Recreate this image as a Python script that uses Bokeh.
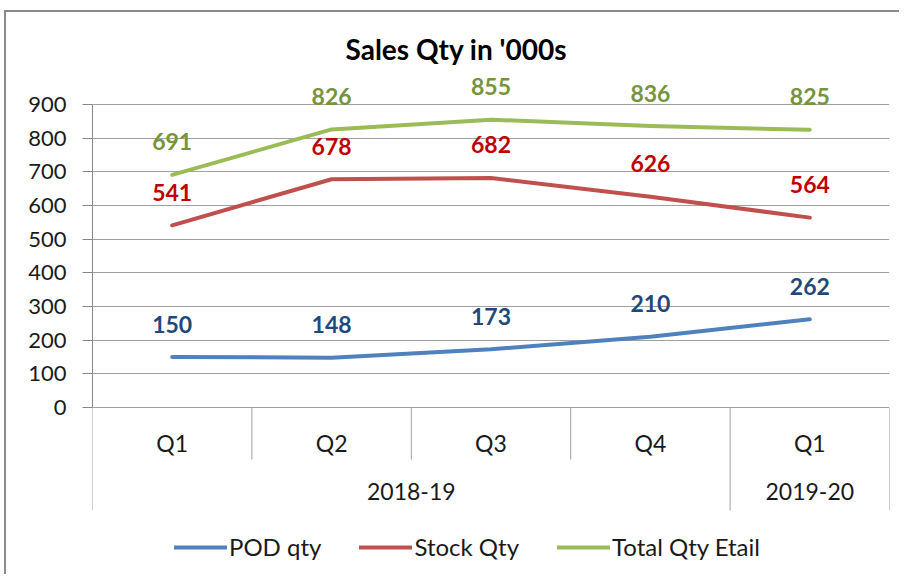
from bokeh.plotting import figure
from bokeh.models import Range1d, FixedTicker, Legend, LegendItem
from bokeh.core.properties import value
from bokeh.embed import file_html
from bokeh.resources import INLINE

# ---------------- data ----------------
quarters = ["Q1", "Q2", "Q3", "Q4", "Q1"]
years = ["2018-19", "2019-20"]
year_quarter_counts = [4, 1]
pod_qty = [150, 148, 173, 210, 262]
stock_qty = [541, 678, 682, 626, 564]
total_qty = [691, 826, 855, 836, 825]
y_ticks = [0, 100, 200, 300, 400, 500, 600, 700, 800, 900]
series_names = ["POD qty", "Stock Qty", "Total Qty Etail"]

# ---------------- style ----------------
FONT = "Lato"
line_colors = ["#4F81BD", "#C0504D", "#9BBB59"]
label_colors = ["#1F497D", "#C00000", "#77933C"]
GRID = "#a0a0a0"
TEXT = "#1a1a1a"

FRAME_W = 797
FRAME_H = 504
PX_PER_UNIT = 303 / 900.0          # 900 units span 303 px
TOP_PAD_PX = 34                     # gap between frame top and 900 gridline
y_end = 900 + TOP_PAD_PX / PX_PER_UNIT
y_start = y_end - FRAME_H / PX_PER_UNIT

n = len(quarters)
xs = [i + 0.5 for i in range(n)]

p = figure(frame_width=FRAME_W, frame_height=FRAME_H,
           min_border_left=86, min_border_right=10, min_border_top=58, min_border_bottom=0,
           x_range=Range1d(0, n), y_range=Range1d(y_start, y_end),
           x_axis_location=None, toolbar_location=None, output_backend="svg",
           title="Sales Qty in '000s")
p.outline_line_color = None
p.background_fill_color = "white"
p.border_fill_color = "white"

p.title.align = "left"
p.title.offset = 253
p.title.text_font = FONT
p.title.text_font_size = "28px"
p.title.text_font_style = "bold"
p.title.text_color = "#000000"

# y axis
yax = p.yaxis[0]
yax.ticker = FixedTicker(ticks=y_ticks)
yax.bounds = (0, 900)
yax.axis_line_color = "#868686"
yax.major_tick_line_color = "#868686"
yax.major_tick_out = 10
yax.major_tick_in = 0
yax.minor_tick_line_color = None
yax.major_label_standoff = 16
yax.major_label_text_font = FONT
yax.major_label_text_font_size = "22px"
yax.major_label_text_color = TEXT

p.xgrid.visible = False
p.ygrid.ticker = FixedTicker(ticks=y_ticks)
p.ygrid.bounds = (0, 900)
p.ygrid.grid_line_color = GRID

# lines + data labels
renderers = []
for vals, lc, tc in zip([pod_qty, stock_qty, total_qty], line_colors, label_colors):
    r = p.line(xs, vals, line_color=lc, line_width=4, line_cap="round", line_join="round")
    renderers.append(r)
    p.text(xs, vals, text=[str(v) for v in vals], text_align="center", text_baseline="middle",
           y_offset=-33, text_font=value(FONT), text_font_style="bold",
           text_font_size="23px", text_color=tc)

# multi-level category axis drawn in the lower part of the frame
QUARTER_SEP_PX = 52
YEAR_SEP_PX = 103
year_bounds = [0]
for c in year_quarter_counts:
    year_bounds.append(year_bounds[-1] + c)
q_sep = [x for x in range(1, n) if x not in year_bounds]
p.segment(x0=q_sep, y0=[0] * len(q_sep), x1=q_sep,
          y1=[-QUARTER_SEP_PX / PX_PER_UNIT] * len(q_sep), line_color=GRID, line_width=1)
p.segment(x0=year_bounds, y0=[0] * len(year_bounds), x1=year_bounds,
          y1=[-YEAR_SEP_PX / PX_PER_UNIT] * len(year_bounds), line_color=GRID, line_width=1)

p.text(xs, [0] * n, text=quarters, text_align="center", text_baseline="middle", y_offset=35,
       text_font=value(FONT), text_font_size="23px", text_color=TEXT)
year_x = [(year_bounds[i] + year_bounds[i + 1]) / 2 for i in range(len(years))]
p.text(year_x, [0] * len(years), text=years, text_align="center", text_baseline="middle",
       y_offset=84, text_font=value(FONT), text_font_size="23px", text_color=TEXT)

legend = Legend(items=[LegendItem(label=nm, renderers=[r]) for nm, r in zip(series_names, renderers)],
                orientation="horizontal", location=(82, 13))
legend.glyph_width = 53
legend.glyph_height = 20
legend.label_standoff = 2
legend.spacing = 38
legend.padding = 0
legend.margin = 0
legend.border_line_color = None
legend.background_fill_alpha = 0
legend.label_text_font = FONT
legend.label_text_font_size = "24px"
legend.label_text_color = TEXT
p.add_layout(legend)

p.styles = {"border-top": "2px solid #8a8a8a", "border-left": "2px solid #8a8a8a",
            "margin-left": "4px", "margin-top": "10px"}

open("out.html", "w").write(file_html(p, INLINE))
